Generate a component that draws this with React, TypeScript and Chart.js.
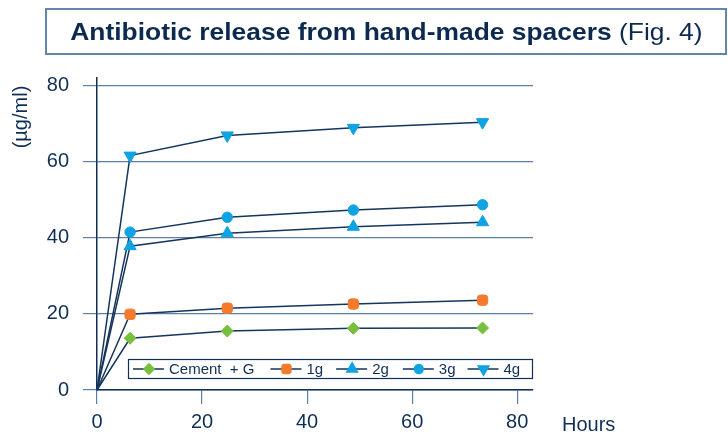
import React, { useEffect, useRef } from "react";
import { Chart, registerables } from "chart.js";
import { drawPoint } from "chart.js/helpers";

Chart.register(...registerables);

const hours = [0, 6.3, 24.8, 48.8, 73.4];
const seriesNames = ["Cement  + G", "1g", "2g", "3g", "4g"];
const cementG = [0, 13.6, 15.5, 16.2, 16.3];
const g1 = [0, 19.9, 21.5, 22.6, 23.6];
const g2 = [0, 37.8, 41.2, 42.9, 44.1];
const g3 = [0, 41.5, 45.4, 47.3, 48.7];
const g4 = [0, 61.6, 66.9, 68.9, 70.4];
const xTicks = [0, 20, 40, 60, 80];
const yTicks = [0, 20, 40, 60, 80];

const NAVY = "#0f2f57";
const LINE = "#15355c";
const GRID = "#5f7ea3";
const FONT = "'Liberation Sans', Arial, sans-serif";

const styles = [
  { color: "#78bf3f", pointStyle: "rectRot", rotation: 0, radius: 6 },
  { color: "#f47a2c", pointStyle: "rectRounded", rotation: 0, radius: 6 },
  { color: "#0ea3e2", pointStyle: "triangle", rotation: 0, radius: 7 },
  { color: "#0ea3e2", pointStyle: "circle", rotation: 0, radius: 5.2 },
  { color: "#0ea3e2", pointStyle: "triangle", rotation: 180, radius: 7 },
];

const seriesValues = [cementG, g1, g2, g3, g4];

const textPlugin = {
  id: "extraText",
  afterDraw(chart: any) {
    const ctx = chart.ctx;
    const area = chart.chartArea;
    ctx.save();
    ctx.fillStyle = NAVY;
    ctx.font = `20px ${FONT}`;
    ctx.translate(21, 117);
    ctx.rotate(-Math.PI / 2);
    ctx.textAlign = "center";
    ctx.textBaseline = "middle";
    ctx.fillText("(µg/ml)", 0, 0);
    ctx.restore();

    ctx.save();
    ctx.fillStyle = NAVY;
    ctx.font = `20px ${FONT}`;
    ctx.textAlign = "left";
    ctx.textBaseline = "alphabetic";
    ctx.fillText("Hours", area.right + 29, 431);
    ctx.restore();

    ctx.save();
    const boxLeft = 128;
    const boxRight = area.right;
    const boxTop = 359;
    const boxBottom = 379;
    ctx.fillStyle = "#ffffff";
    ctx.fillRect(boxLeft, boxTop, boxRight - boxLeft, boxBottom - boxTop);
    ctx.strokeStyle = NAVY;
    ctx.lineWidth = 1.2;
    ctx.strokeRect(boxLeft + 0.5, boxTop + 0.5, boxRight - boxLeft - 1, boxBottom - boxTop - 1);
    const cy = (boxTop + boxBottom) / 2;
    ctx.font = `15px ${FONT}`;
    ctx.textBaseline = "middle";
    let x = boxLeft + 5;
    const gaps = [16, 13, 14, 12, 0];
    seriesNames.forEach((name, i) => {
      const st = styles[i];
      ctx.strokeStyle = LINE;
      ctx.lineWidth = 1.5;
      ctx.beginPath();
      ctx.moveTo(x, cy);
      ctx.lineTo(x + 31, cy);
      ctx.stroke();
      ctx.fillStyle = st.color;
      ctx.strokeStyle = st.color;
      drawPoint(
        ctx,
        { pointStyle: st.pointStyle as any, rotation: st.rotation, radius: st.radius - 0.8, borderWidth: 1 },
        x + 16,
        cy
      );
      ctx.fillStyle = NAVY;
      ctx.textAlign = "left";
      ctx.fillText(name, x + 36, cy + 1);
      const w = ctx.measureText(name).width;
      x = x + 36 + w + gaps[i];
    });
    ctx.restore();
  },
};

export default function App() {
  const canvasRef = useRef<HTMLCanvasElement | null>(null);

  useEffect(() => {
    if (!canvasRef.current) return;
    const datasets = seriesNames.map((name, i) => ({
      label: name,
      data: hours.map((h, k) => ({ x: h, y: seriesValues[i][k] })),
      borderColor: LINE,
      borderWidth: 1.5,
      backgroundColor: styles[i].color,
      pointBackgroundColor: styles[i].color,
      pointBorderColor: styles[i].color,
      pointBorderWidth: 1,
      pointStyle: styles[i].pointStyle as any,
      rotation: styles[i].rotation,
      pointRadius: hours.map((_, k) => (k === 0 ? 0 : styles[i].radius)),
      tension: 0,
      clip: false as any,
    }));
    const chart = new Chart(canvasRef.current, {
      type: "line",
      data: { datasets },
      options: {
        animation: false,
        responsive: false,
        devicePixelRatio: 1,
        layout: { padding: { left: 0, right: 195, top: 78, bottom: 0 } },
        plugins: { legend: { display: false }, tooltip: { enabled: false } },
        scales: {
          x: {
            type: "linear",
            position: "bottom",
            min: 0,
            max: 83,
            afterBuildTicks: (scale: any) => {
              scale.ticks = xTicks.map((v) => ({ value: v }));
            },
            afterFit: (scale: any) => {
              scale.height = 45;
            },
            border: { color: NAVY, width: 1.5 },
            grid: { drawOnChartArea: false, drawTicks: true, tickLength: 14, color: GRID, lineWidth: 1.2 },
            ticks: { color: NAVY, font: { size: 20, family: FONT }, padding: 6, maxRotation: 0 },
          },
          y: {
            type: "linear",
            min: 0,
            max: 82,
            afterBuildTicks: (scale: any) => {
              scale.ticks = yTicks.map((v) => ({ value: v }));
            },
            afterFit: (scale: any) => {
              scale.width = 97;
            },
            border: { color: NAVY, width: 1.5 },
            grid: { color: GRID, lineWidth: 1.2, tickLength: 14 },
            ticks: { color: NAVY, font: { size: 20, family: FONT }, padding: 14 },
          },
        },
      },
      plugins: [textPlugin],
    });
    return () => chart.destroy();
  }, []);

  return (
    <div style={{ position: "absolute", left: 0, top: 0, width: 728, height: 435, background: "#fff" }}>
      <canvas ref={canvasRef} width={728} height={435} style={{ position: "absolute", left: 0, top: 0 }} />
      <div
        style={{
          position: "absolute",
          left: 45,
          top: 8,
          width: 682,
          height: 47,
          boxSizing: "border-box",
          border: "2px solid #6384ab",
          display: "flex",
          alignItems: "center",
          justifyContent: "center",
          fontFamily: FONT,
          fontSize: 24,
          color: "#0c2a4f",
          whiteSpace: "nowrap",
        }}
      >
        <div style={{ transform: "scaleX(1.1)", transformOrigin: "center" }}>
          <span style={{ fontWeight: "bold" }}>Antibiotic release from hand-made spacers</span>
          <span>&nbsp;(Fig. 4)</span>
        </div>
      </div>
    </div>
  );
}
